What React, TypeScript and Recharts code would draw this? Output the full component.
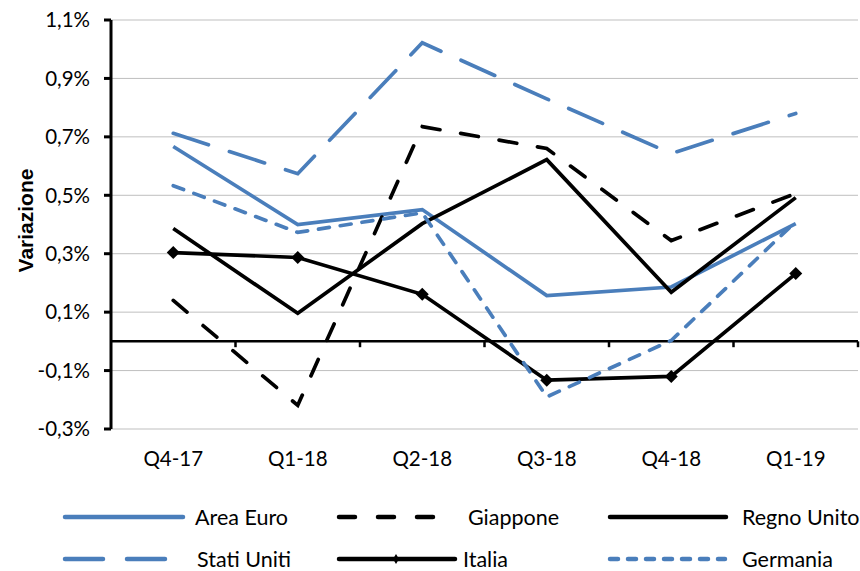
import { CartesianGrid, Legend, Line, LineChart, ReferenceLine, XAxis, YAxis } from "recharts";

const quarters = ["Q4-17", "Q1-18", "Q2-18", "Q3-18", "Q4-18", "Q1-19"];
const areaEuro = [0.667, 0.4, 0.451, 0.157, 0.186, 0.403];
const giappone = [0.14, -0.219, 0.735, 0.66, 0.345, 0.506];
const regnoUnito = [0.386, 0.096, 0.403, 0.622, 0.168, 0.492];
const statiUniti = [0.712, 0.574, 1.022, 0.83, 0.643, 0.78];
const italia = [0.304, 0.287, 0.161, -0.133, -0.12, 0.232];
const germania = [0.533, 0.373, 0.44, -0.19, 0.003, 0.41];
const yTicks = [-0.3, -0.1, 0.1, 0.3, 0.5, 0.7, 0.9, 1.1];
const boundaries = [0.5, 1.5, 2.5, 3.5, 4.5, 5.5];

const data = quarters.map((q, i) => ({
  i,
  q,
  areaEuro: areaEuro[i],
  giappone: giappone[i],
  regnoUnito: regnoUnito[i],
  statiUniti: statiUniti[i],
  italia: italia[i],
  germania: germania[i],
}));

const BLUE = "#4a7ebb";
const FONT = "Lato, 'Open Sans', sans-serif";

const series = [
  { key: "areaEuro", name: "Area Euro", color: BLUE, dash: undefined, legendDash: undefined, diamond: false },
  { key: "giappone", name: "Giappone", color: "#000", dash: "18 21", legendDash: "16 23", diamond: false },
  { key: "regnoUnito", name: "Regno Unito", color: "#000", dash: undefined, legendDash: undefined, diamond: false },
  { key: "statiUniti", name: "Stati Uniti", color: BLUE, dash: "37 22", legendDash: "38 24", diamond: false },
  { key: "italia", name: "Italia", color: "#000", dash: undefined, legendDash: undefined, diamond: true },
  { key: "germania", name: "Germania", color: BLUE, dash: "11 11", legendDash: "8 10", diamond: false },
];

// legend sample/text positions, copied from the excel layout
const legendPos: Record<string, { x1: number; x2: number; tx: number; row: number }> = {
  areaEuro: { x1: 65, x2: 183, tx: 195, row: 0 },
  giappone: { x1: 339, x2: 433, tx: 468, row: 0 },
  regnoUnito: { x1: 610, x2: 726, tx: 742, row: 0 },
  statiUniti: { x1: 65, x2: 166, tx: 197, row: 1 },
  italia: { x1: 339, x2: 455, tx: 463, row: 1 },
  germania: { x1: 610, x2: 725, tx: 742, row: 1 },
};

function Diamond(props: any) {
  const { cx, cy } = props;
  if (cx == null || cy == null) return null;
  const r = 6.5;
  return <path d={`M${cx},${cy - r}L${cx + r},${cy}L${cx},${cy + r}L${cx - r},${cy}Z`} fill="#000" />;
}

function ChartLegend() {
  return (
    <svg width={860} height={92} style={{ display: "block" }}>
      {series.map((s) => {
        const p = legendPos[s.key];
        const y = 38 + p.row * 42;
        const mid = (p.x1 + p.x2) / 2 - 1;
        return (
          <g key={s.key}>
            <line x1={p.x1} x2={p.x2} y1={y} y2={y} stroke={s.color} strokeWidth={4.5} strokeLinecap="round" strokeDasharray={s.legendDash} />
            {s.diamond && <path d={`M${mid},${y - 5}L${mid + 3},${y}L${mid},${y + 5}L${mid - 3},${y}Z`} fill="#000" />}
            <text x={p.tx} y={y} dy="0.36em" fontSize={21.5} fontFamily={FONT} fill="#000">
              {s.name}
            </text>
          </g>
        );
      })}
    </svg>
  );
}

export default function App() {
  return (
    <div style={{ position: "absolute", left: 0, top: 0 }}>
      <LineChart width={860} height={571} data={data} margin={{ top: 20, right: 2, left: 0, bottom: 0 }}>
        <CartesianGrid vertical={false} stroke="#bfbfbf" strokeWidth={1} />
        <XAxis
          dataKey="i"
          type="number"
          domain={[-0.5, 5.5]}
          ticks={[0, 1, 2, 3, 4, 5]}
          tickFormatter={(v: number) => quarters[v]}
          axisLine={false}
          tickLine={false}
          height={50}
          tickMargin={16}
          tick={{ fontSize: 20.5, fontFamily: FONT, fill: "#000" }}
        />
        <YAxis
          domain={[-0.3, 1.1]}
          ticks={yTicks}
          width={111}
          interval={0}
          tickFormatter={(v: number) => v.toFixed(1).replace(".", ",") + "%"}
          axisLine={{ stroke: "#000", strokeWidth: 3 }}
          tickLine={{ stroke: "#000", strokeWidth: 3 }}
          tickSize={7}
          tickMargin={14}
          tick={{ fontSize: 20.5, fontFamily: FONT, fill: "#000" }}
          label={{ value: "Variazione", angle: -90, position: "insideLeft", offset: 26, dy: -4, style: { fontSize: 21, fontWeight: 700, fontFamily: "'Liberation Sans', Arial, sans-serif", fill: "#000", textAnchor: "middle" } }}
        />
        <ReferenceLine y={0} stroke="#000" strokeWidth={2.5} />
        {boundaries.map((b) => (
          <ReferenceLine key={b} segment={[{ x: b, y: 0 }, { x: b, y: -0.02 }]} stroke="#000" strokeWidth={2.5} />
        ))}
        {series.map((s) => (
          <Line
            key={s.key}
            dataKey={s.key}
            name={s.name}
            stroke={s.color}
            strokeWidth={3.7}
            strokeDasharray={s.dash}
            strokeLinecap={s.dash ? "round" : "butt"}
            dot={s.diamond ? <Diamond /> : false}
            activeDot={false}
            isAnimationActive={false}
          />
        ))}
        <Legend verticalAlign="bottom" height={92} content={() => <ChartLegend />} wrapperStyle={{ left: 0, width: 860 }} />
      </LineChart>
    </div>
  );
}
